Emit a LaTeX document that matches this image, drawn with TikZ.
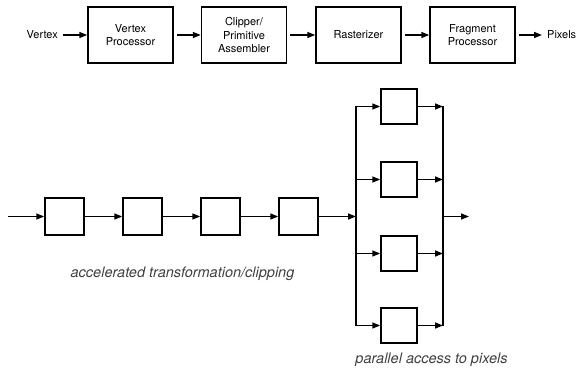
\documentclass[tikz,border=0pt]{standalone}
\usepackage{fontspec}
\setmainfont{TeX Gyre Heros}
\usetikzlibrary{arrows.meta}
\begin{document}
\begin{tikzpicture}[x=1pt,y=-1pt,
  box/.style={draw,line width=1.5pt,inner sep=0pt,align=center,font=\fontsize{11}{13.5}\selectfont},
  big/.style={box,minimum width=85pt,minimum height=56pt},
  small/.style={box,minimum width=39pt,minimum height=37pt},
  pbox/.style={box,minimum width=36pt,minimum height=35pt},
  arr/.style={line width=1.5pt,-{Triangle[length=8pt,width=6pt]}},
  ln/.style={line width=1.5pt,line cap=rect},
  lbl/.style={font=\fontsize{11}{13.5}\selectfont,inner sep=0pt},
  captxt/.style={font=\fontsize{14.5}{17}\selectfont\itshape,text=black!75,inner sep=0pt,anchor=base}]
\useasboundingbox (0,0) rectangle (579,372);
% top pipeline
\node[lbl,anchor=east] (vin) at (58,35) {Vertex};
\node[big] (b1) at (130.5,35) {Vertex\\Processor};
\node[big] (b2) at (244,35) {Clipper/\\Primitive\\Assembler};
\node[big] (b3) at (358.5,35) {Rasterizer};
\node[big] (b4) at (472.5,35) {Fragment\\Processor};
\node[lbl,anchor=west] (pout) at (547,35) {Pixels};
\draw[arr,shorten <=5pt] (vin) -- (b1);
\draw[arr,shorten <=3pt] (b1) -- (b2);
\draw[arr,shorten <=3pt] (b2) -- (b3);
\draw[arr,shorten <=3pt] (b3) -- (b4);
\draw[arr,shorten <=3pt,shorten >=5pt] (b4) -- (pout);
% serial chain
\coordinate (in) at (8,216.5);
\node[small] (s1) at (64.5,216.5) {};
\node[small] (s2) at (142.5,216.5) {};
\node[small] (s3) at (220.5,216.5) {};
\node[small] (s4) at (298.5,216.5) {};
\coordinate (lb) at (356,216.5);
\coordinate (rb) at (443,216.5);
\coordinate (out) at (469,216.5);
\draw[arr] (in) -- (s1);
\draw[arr] (s1) -- (s2);
\draw[arr] (s2) -- (s3);
\draw[arr] (s3) -- (s4);
\draw[arr] (s4) -- (lb);
% parallel
\node[pbox] (p1) at (399,106.5) {};
\node[pbox] (p2) at (399,179.5) {};
\node[pbox] (p3) at (399,253.5) {};
\node[pbox] (p4) at (399,325.5) {};
\draw[ln] (p1 -| lb) -- (p4 -| lb);
\draw[ln] (p1 -| rb) -- (p4 -| rb);
\foreach \p in {p1,p2,p3,p4}{
  \draw[arr] (\p -| lb) -- (\p);
  \draw[arr] (\p) -- (\p -| rb);
}
\draw[arr] (rb) -- (out);
% captions
\node[captxt] (c1) at (182.5,277) {accelerated transformation/clipping};
\node[captxt] (c2) at (431.5,363) {parallel access to pixels};
\end{tikzpicture}
\end{document}
